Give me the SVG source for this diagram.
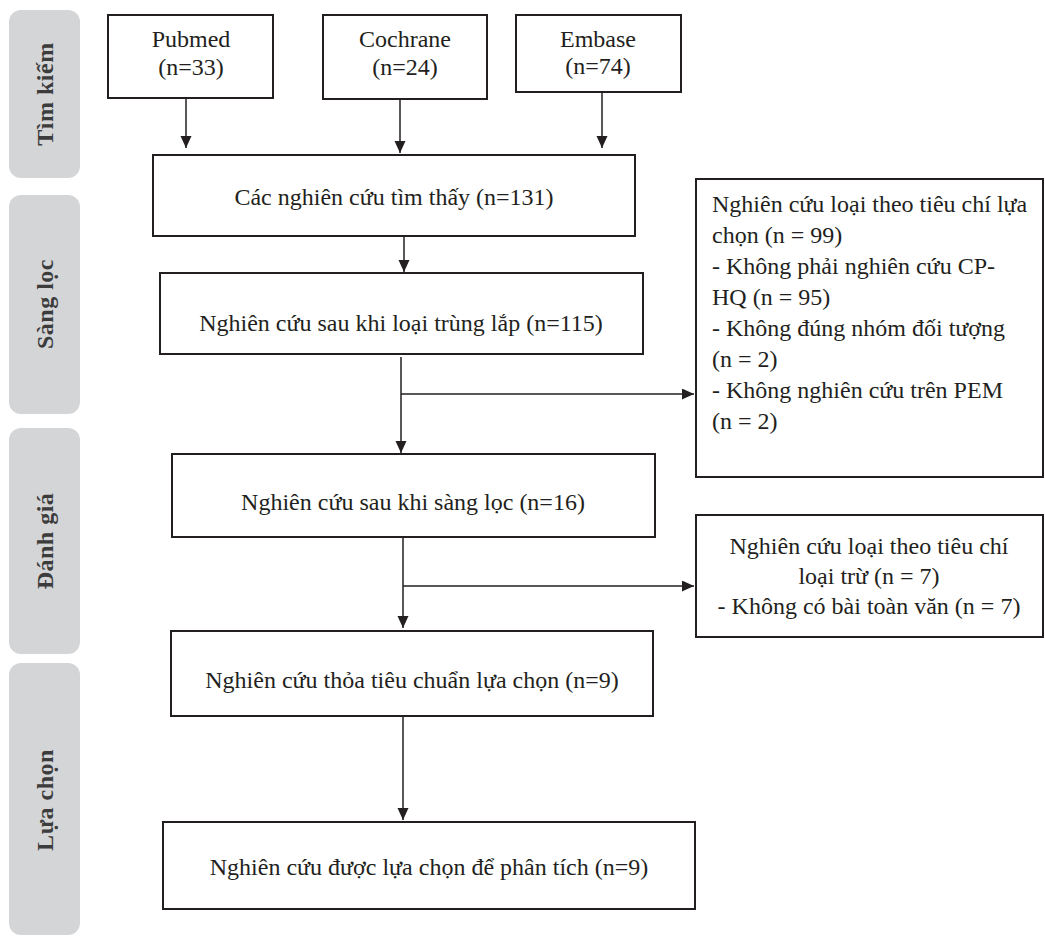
<svg xmlns="http://www.w3.org/2000/svg" width="1045" height="936" viewBox="0 0 1045 936">
<style>
.band{fill:#d4d5d7}
.side{font-weight:bold;font-size:24px;fill:#3c3c3c;text-anchor:middle;letter-spacing:0.5px}
.box{fill:#fff;stroke:#231f20;stroke-width:2}
.t{font-size:24px;fill:#231f20}
.c{text-anchor:middle}
.ln{fill:none;stroke:#231f20;stroke-width:1.5}
</style>
<defs>
<marker id="ah" markerUnits="userSpaceOnUse" markerWidth="13" markerHeight="12" refX="12" refY="5.5" orient="auto">
<path d="M0,0 L12,5.5 L0,11 z" fill="#231f20"/>
</marker>
</defs>
<rect width="1045" height="936" fill="#fff"/>
<g id="sidebar">
<g id="band-timkiem"><rect class="band" x="9" y="10" width="71" height="168" rx="12"/><text class="side" font-family="Liberation Serif" transform="translate(53,94) rotate(-90)">Tìm kiếm</text></g>
<g id="band-sangloc"><rect class="band" x="9" y="195" width="71" height="219" rx="12"/><text class="side" font-family="Liberation Serif" transform="translate(53,304) rotate(-90)">Sàng lọc</text></g>
<g id="band-danhgia"><rect class="band" x="9" y="428" width="71" height="226" rx="12"/><text class="side" font-family="Liberation Serif" transform="translate(53,541) rotate(-90)">Đánh giá</text></g>
<g id="band-luachon"><rect class="band" x="9" y="663" width="71" height="272" rx="12"/><text class="side" font-family="Liberation Serif" transform="translate(53,800) rotate(-90)">Lựa chọn</text></g>
</g>
<g id="connectors">
<line class="ln" x1="186" y1="98" x2="186" y2="148" marker-end="url(#ah)"/>
<line class="ln" x1="400" y1="99" x2="400" y2="153" marker-end="url(#ah)"/>
<line class="ln" x1="602" y1="92" x2="602" y2="148" marker-end="url(#ah)"/>
<line class="ln" x1="404" y1="236" x2="404" y2="272" marker-end="url(#ah)"/>
<line class="ln" x1="401" y1="357" x2="401" y2="453" marker-end="url(#ah)"/>
<line class="ln" x1="401" y1="394" x2="694" y2="394" marker-end="url(#ah)"/>
<line class="ln" x1="403" y1="537" x2="403" y2="628" marker-end="url(#ah)"/>
<line class="ln" x1="403" y1="586" x2="694" y2="586" marker-end="url(#ah)"/>
<line class="ln" x1="403" y1="716" x2="403" y2="820" marker-end="url(#ah)"/>
</g>
<g id="nodes">
<g id="pubmed"><rect class="box" x="108" y="15" width="165" height="83"/><text class="t c" font-family="Liberation Serif" x="191" y="47">Pubmed</text><text class="t c" font-family="Liberation Serif" x="191" y="75">(n=33)</text></g>
<g id="cochrane"><rect class="box" x="323" y="15" width="164" height="84"/><text class="t c" font-family="Liberation Serif" x="405" y="47">Cochrane</text><text class="t c" font-family="Liberation Serif" x="405" y="75">(n=24)</text></g>
<g id="embase"><rect class="box" x="516" y="15" width="165" height="77"/><text class="t c" font-family="Liberation Serif" x="598" y="47">Embase</text><text class="t c" font-family="Liberation Serif" x="598" y="74">(n=74)</text></g>
<g id="found"><rect class="box" x="153" y="155" width="482" height="81"/><text class="t c" font-family="Liberation Serif" x="394" y="205">Các nghiên cứu tìm thấy (n=131)</text></g>
<g id="dedup"><rect class="box" x="160" y="273" width="483" height="81"/><text class="t c" font-family="Liberation Serif" x="401" y="331">Nghiên cứu sau khi loại trùng lắp (n=115)</text></g>
<g id="excluded1"><rect class="box" x="696" y="179" width="347" height="298"/>
<text class="t" font-family="Liberation Serif" x="712" y="212">Nghiên cứu loại theo tiêu chí lựa</text>
<text class="t" font-family="Liberation Serif" x="712" y="243">chọn (n = 99)</text>
<text class="t" font-family="Liberation Serif" x="712" y="274">- Không phải nghiên cứu CP-</text>
<text class="t" font-family="Liberation Serif" x="712" y="305">HQ (n = 95)</text>
<text class="t" font-family="Liberation Serif" x="712" y="336">- Không đúng nhóm đối tượng</text>
<text class="t" font-family="Liberation Serif" x="712" y="367">(n = 2)</text>
<text class="t" font-family="Liberation Serif" x="712" y="398">- Không nghiên cứu trên PEM</text>
<text class="t" font-family="Liberation Serif" x="712" y="429">(n = 2)</text>
</g>
<g id="screened"><rect class="box" x="172" y="454" width="483" height="83"/><text class="t c" font-family="Liberation Serif" x="413" y="510">Nghiên cứu sau khi sàng lọc (n=16)</text></g>
<g id="excluded2"><rect class="box" x="696" y="515" width="347" height="122"/>
<text class="t c" font-family="Liberation Serif" x="869" y="554">Nghiên cứu loại theo tiêu chí</text>
<text class="t c" font-family="Liberation Serif" x="869" y="584">loại trừ (n = 7)</text>
<text class="t c" font-family="Liberation Serif" x="869" y="614">- Không có bài toàn văn (n = 7)</text>
</g>
<g id="eligible"><rect class="box" x="171" y="631" width="482" height="85"/><text class="t c" font-family="Liberation Serif" x="412" y="688">Nghiên cứu thỏa tiêu chuẩn lựa chọn (n=9)</text></g>
<g id="included"><rect class="box" x="163" y="822" width="532" height="87"/><text class="t c" font-family="Liberation Serif" x="429" y="875">Nghiên cứu được lựa chọn để phân tích (n=9)</text></g>
</g>
</svg>
